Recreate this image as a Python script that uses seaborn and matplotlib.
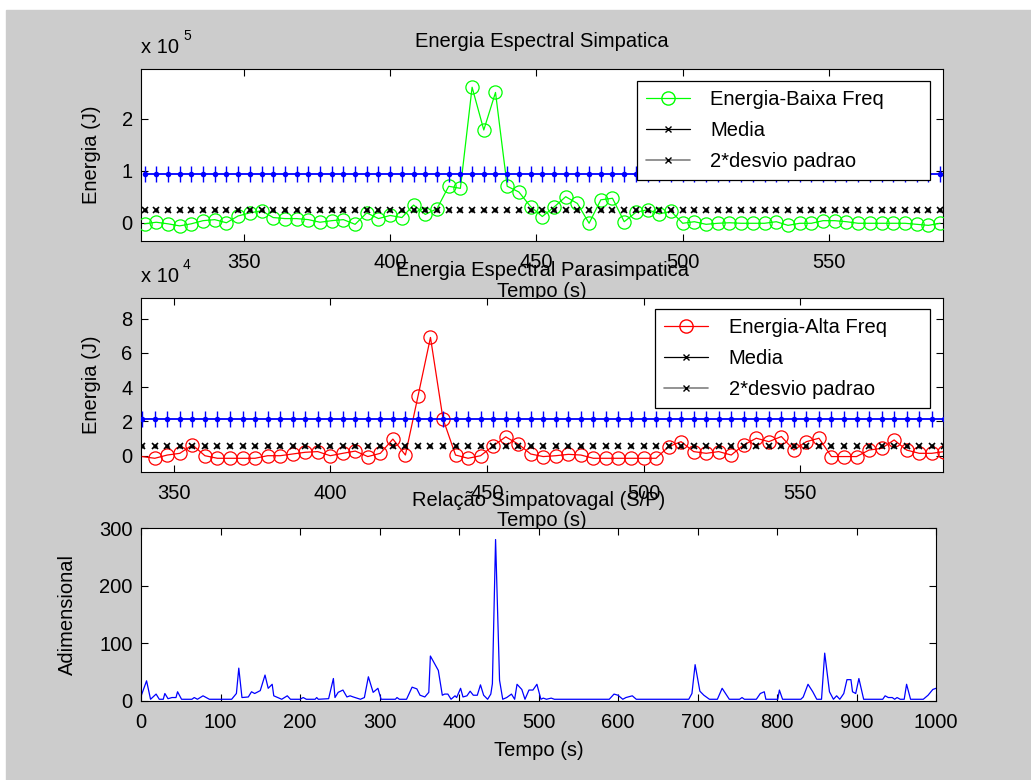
import numpy as np
import matplotlib
matplotlib.use("Agg")
import matplotlib.pyplot as plt
import seaborn as sns
from matplotlib.lines import Line2D
from matplotlib.patches import Rectangle

# ---- dados ----
# energia baixa frequencia (x 1e5 J), amostras a cada 4 s
tempo_baixa = np.arange(316, 589, 4)
energia_baixa = [-0.02, 0.01, -0.02, -0.06, -0.02, 0.04, 0.06, 0.00, 0.13, 0.19,
                 0.23, 0.10, 0.08, 0.08, 0.06, 0.01, 0.04, 0.06, -0.03, 0.19,
                 0.08, 0.14, 0.10, 0.34, 0.16, 0.27, 0.70, 0.66, 2.60, 1.78,
                 2.50, 0.70, 0.59, 0.31, 0.12, 0.30, 0.50, 0.37, -0.01, 0.44,
                 0.47, 0.02, 0.20, 0.25, 0.17, 0.22, -0.01, 0.02, -0.03, -0.01,
                 0.00, -0.01, -0.01, -0.01, 0.02, -0.05, -0.01, -0.01, 0.04, 0.04,
                 0.02, -0.01, -0.01, -0.01, -0.01, -0.01, -0.03, -0.05, -0.01]
media_baixa = 0.25
desvio_baixa = 0.93

# energia alta frequencia (x 1e4 J)
tempo_alta = np.arange(340, 597, 4)
energia_alta = [-0.05, -0.15, 0.04, 0.14, 0.63, 0.00, -0.15, -0.15, -0.15, -0.15,
                0.00, 0.00, 0.10, 0.20, 0.24, 0.00, 0.14, 0.27, -0.05, 0.14,
                0.97, 0.04, 3.46, 6.90, 2.15, 0.04, -0.15, 0.00, 0.57, 1.10,
                0.68, 0.10, -0.05, 0.00, 0.08, 0.04, -0.15, -0.15, -0.15, -0.15,
                -0.15, -0.15, 0.53, 0.82, 0.24, 0.14, 0.24, 0.04, 0.63, 1.02,
                0.82, 1.12, 0.33, 0.82, 1.02, -0.05, -0.05, -0.05, 0.33, 0.43,
                0.92, 0.33, 0.14, 0.14, 0.24]
media_alta = 0.57
desvio_alta = 2.15

# relacao simpatovagal
tempo_sp = [0, 7, 12, 19, 23, 28, 30, 34, 39, 44, 46, 51, 64, 67, 71, 78, 86, 114,
            120, 123, 127, 135, 139, 143, 150, 156, 160, 165, 167, 177, 184, 188,
            200, 204, 208, 219, 221, 223, 236, 242, 244, 248, 254, 259, 263, 267,
            276, 281, 286, 292, 298, 302, 320, 322, 325, 334, 341, 347, 351, 357,
            362, 364, 374, 379, 382, 386, 390, 395, 397, 402, 405, 410, 414, 418,
            423, 427, 431, 436, 440, 442, 446, 451, 455, 460, 466, 470, 473, 479,
            483, 488, 493, 498, 503, 506, 510, 516, 520, 589, 595, 600, 606, 610,
            618, 623, 689, 693, 697, 703, 708, 715, 725, 731, 740, 753, 756, 759,
            774, 779, 784, 786, 801, 803, 807, 830, 833, 839, 845, 850, 856, 860,
            866, 871, 875, 879, 884, 888, 893, 895, 899, 903, 909, 933, 936, 940,
            945, 948, 951, 955, 960, 963, 968, 984, 990, 996, 1000]
relacao_sp = [8, 35, 3, 12, 3, 3, 13, 4, 6, 6, 16, 3, 3, 6, 3, 9, 3, 3,
              13, 57, 6, 7, 16, 13, 18, 45, 22, 29, 9, 3, 9, 3,
              3, 6, 3, 3, 6, 3, 4, 39, 6, 15, 19, 7, 9, 7,
              3, 6, 42, 15, 22, 3, 3, 6, 3, 3, 24, 21, 10, 7,
              15, 78, 53, 10, 12, 12, 3, 9, 6, 22, 7, 9, 17, 10,
              10, 28, 10, 3, 12, 30, 280, 36, 3, 6, 12, 3, 29, 20,
              3, 19, 19, 29, 3, 5, 3, 5, 3, 3, 12, 10, 3, 6,
              9, 3, 3, 13, 63, 17, 10, 3, 3, 22, 3, 3, 6, 3,
              3, 13, 16, 3, 3, 19, 3, 3, 7, 29, 16, 3, 3, 83,
              16, 3, 9, 3, 13, 37, 37, 16, 13, 39, 3, 3, 9, 6,
              6, 3, 6, 3, 3, 29, 3, 3, 10, 20, 22]

sns.set_style("ticks")
plt.rcParams['font.family'] = ['Liberation Sans', 'DejaVu Sans']
plt.rcParams['text.color'] = 'black'
plt.rcParams['axes.labelcolor'] = 'black'
FS = 14.5

fig = plt.figure(figsize=(10.31, 7.8), dpi=100, facecolor='white')
fig.patches.append(Rectangle((6/1031, 0), 1 - 6/1031, 1 - 10/780,
                             transform=fig.transFigure, color='#cccccc', zorder=-10))


def estilo(ax):
    ax.tick_params(direction='in', length=5, width=0.8, top=True, right=True,
                   labelsize=FS, colors='black')
    ax.tick_params(axis='x', pad=9)
    ax.tick_params(axis='y', pad=6)
    for s in ax.spines.values():
        s.set_visible(True)
        s.set_linewidth(0.8)
        s.set_color('black')


def painel(ax, t, e, media, desvio, cor, rotulo, titulo, xlim, ylim, yticks, expo, leg_box, mev):
    n = len(t)
    sns.lineplot(x=t, y=e, ax=ax, color=cor, lw=0.9, marker='o', markersize=9.5,
                 markerfacecolor='none', markeredgecolor=cor, markeredgewidth=0.9,
                 markevery=mev, zorder=3)
    sns.lineplot(x=t, y=[media] * n, ax=ax, color='black', linestyle='none', marker='x',
                 markersize=5, markeredgecolor='black', markeredgewidth=1.2, zorder=4)
    sns.lineplot(x=t, y=[media] * n, ax=ax, color='black', linestyle='none', marker='o',
                 markersize=3, markeredgecolor='black', markeredgewidth=0, zorder=4)
    sns.lineplot(x=t, y=[desvio] * n, ax=ax, color='#0000ff', lw=1.3, marker='|',
                 markersize=11, markeredgecolor='#0000ff', markeredgewidth=1.0, zorder=4)
    sns.lineplot(x=t, y=[desvio] * n, ax=ax, color='#0000ff', linestyle='none', marker='o',
                 markersize=4, markeredgecolor='#0000ff', markeredgewidth=0, zorder=4)
    ax.set_xlim(*xlim)
    ax.set_ylim(*ylim)
    ax.set_xticks([350, 400, 450, 500, 550])
    ax.set_yticks(yticks)
    ax.set_yticklabels([str(v) for v in yticks])
    estilo(ax)
    ax.set_title(titulo, fontsize=FS, pad=16)
    ax.set_xlabel('Tempo (s)', fontsize=FS)
    ax.set_ylabel('Energia (J)', fontsize=FS)
    handles = [Line2D([], [], color=cor, lw=0.9, marker='o', ms=9.5, mfc='none', mec=cor),
               Line2D([], [], color='black', lw=0.9, marker='x', ms=5, mec='black'),
               Line2D([], [], color='#808080', lw=1.2, marker='x', ms=5, mec='black')]
    leg = ax.legend(handles, [rotulo, 'Media', '2*desvio padrao'], loc='upper left',
                    bbox_to_anchor=leg_box, mode='expand', borderaxespad=0,
                    fontsize=FS, frameon=True, fancybox=False, framealpha=1,
                    edgecolor='black', borderpad=0.45, labelspacing=0.6,
                    handlelength=2.2, handletextpad=1.0)
    leg.get_frame().set_linewidth(0.9)
    leg.set_zorder(10)
    # fator de escala do eixo y (estilo matlab)
    bb = ax.get_position()
    fig.text(bb.x0, bb.y1 + 16/780, 'x 10', fontsize=FS, va='baseline', ha='left')
    fig.text(bb.x0 + 42/1031, bb.y1 + 29/780, expo, fontsize=10, va='baseline', ha='left')


ax1 = fig.add_axes([141/1031, 1 - 241/780, 802/1031, 172/780])
painel(ax1, tempo_baixa, energia_baixa, media_baixa, desvio_baixa, '#00ff00',
       'Energia-Baixa Freq', 'Energia Espectral Simpatica',
       (314.8, 589), (-0.35, 2.95), [0, 1, 2], '5',
       (0.618, 0.0, 0.366, 0.930), None)

ax2 = fig.add_axes([141/1031, 1 - 472/780, 802/1031, 174/780])
painel(ax2, tempo_alta, energia_alta, media_alta, desvio_alta, '#ff0000',
       'Energia-Alta Freq', 'Energia Espectral Parasimpatica',
       (339.6, 595.6), (-0.95, 9.2), [0, 2, 4, 6, 8], '4',
       (0.641, 0.0, 0.343, 0.937), slice(1, None))

ax3 = fig.add_axes([141/1031, 1 - 701/780, 795/1031, 173/780])
sns.lineplot(x=tempo_sp, y=relacao_sp, ax=ax3, color='#0000ff', lw=0.9)
ax3.set_xlim(0, 1000)
ax3.set_ylim(0, 300)
ax3.set_xticks(range(0, 1001, 100))
ax3.set_yticks([0, 100, 200, 300])
estilo(ax3)
ax3.set_title('Relação Simpatovagal (S/P)', fontsize=FS, pad=16)
ax3.set_xlabel('Tempo (s)', fontsize=FS)
ax3.set_ylabel('Adimensional', fontsize=FS)

# posicao dos rotulos
ax1.xaxis.set_label_coords(0.5, -0.238)
ax2.xaxis.set_label_coords(0.5, -0.224)
ax3.xaxis.set_label_coords(0.5, -0.231)
ax1.yaxis.set_label_coords(-0.05, 0.5)
ax2.yaxis.set_label_coords(-0.05, 0.5)
ax3.yaxis.set_label_coords(-0.08, 0.5)

fig.savefig('out.png', dpi=100, facecolor=fig.get_facecolor())
